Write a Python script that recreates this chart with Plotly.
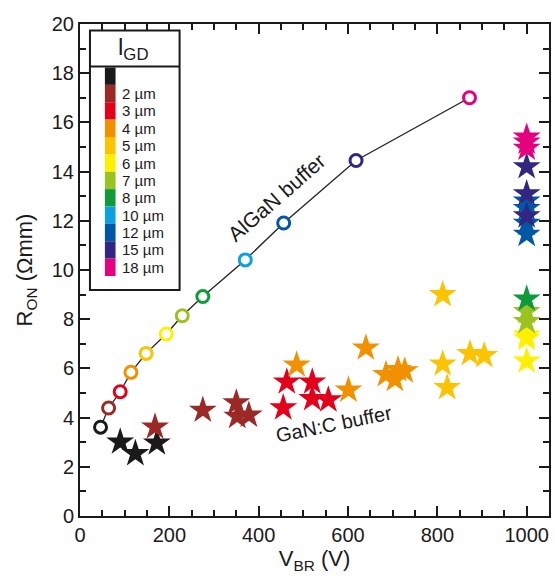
import plotly.graph_objects as go

# ---------------- data ----------------
lgd_values = [1, 2, 3, 4, 5, 6, 7, 8, 10, 12, 15, 18]
lgd_colors = ["#1a1a1a", "#9b2a27", "#e3001b", "#f29100", "#fdc300", "#fff000",
              "#9bc31f", "#119a3a", "#0ea0e0", "#0057a5", "#312783", "#e5007e"]
lgd_labels = ["", "2 µm", "3 µm", "4 µm", "5 µm", "6 µm", "7 µm", "8 µm",
              "10 µm", "12 µm", "15 µm", "18 µm"]

# AlGaN buffer (open circles, joined)
algan_lgd = [1, 2, 3, 4, 5, 6, 7, 8, 10, 12, 15, 18]
algan_vbr = [46, 64, 90, 114, 148, 193, 229, 275, 370, 456, 618, 872]
algan_ron = [3.61, 4.39, 5.05, 5.84, 6.61, 7.40, 8.14, 8.92, 10.41, 11.91, 14.45, 17.0]

# GaN:C buffer (stars)
ganc_lgd = [1, 1, 1,
            2, 2, 2, 2, 2,
            3, 3, 3, 3, 3,
            4, 4, 4, 4, 4, 4, 4,
            5, 5, 5, 5, 5,
            6, 6, 6,
            7, 7,
            8,
            12, 12, 12, 12,
            15, 15, 15,
            18, 18, 18]
ganc_vbr = [90, 124, 172,
            168, 275, 350, 352, 378,
            455, 463, 520, 520, 556,
            485, 640, 601, 685, 705, 712, 727,
            812, 812, 822, 873, 905,
            1000, 1000, 1000,
            1000, 1000,
            1000,
            1000, 1000, 1000, 1000,
            1000, 1000, 1000,
            1000, 1000, 1000]
ganc_ron = [3.01, 2.54, 2.97,
            3.62, 4.30, 4.60, 4.05, 4.10,
            4.40, 5.45, 5.45, 4.77, 4.72,
            6.14, 6.83, 5.12, 5.75, 5.55, 5.95, 5.90,
            9.00, 6.18, 5.22, 6.60, 6.52,
            7.36, 7.22, 6.30,
            8.31, 7.90,
            8.82,
            12.80, 12.50, 11.90, 11.45,
            14.20, 13.10, 12.20,
            15.40, 15.20, 14.95]

color_of = dict(zip(lgd_values, lgd_colors))

FONT = "Liberation Sans, Arial, Helvetica, sans-serif"
W, H = 555, 576
ML, MR, MT, MB = 80, 4, 24, 60

fig = go.Figure()

# GaN:C stars, drawn per l_GD group
for v in lgd_values:
    xs = [x for x, g in zip(ganc_vbr, ganc_lgd) if g == v]
    ys = [y for y, g in zip(ganc_ron, ganc_lgd) if g == v]
    if not xs:
        continue
    fig.add_trace(go.Scatter(
        x=xs, y=ys, mode="markers",
        marker=dict(symbol="star", size=21, color=color_of[v], line=dict(width=0)),
        showlegend=False, hoverinfo="skip"))

# AlGaN circles with connecting line
fig.add_trace(go.Scatter(
    x=algan_vbr, y=algan_ron, mode="lines+markers",
    line=dict(color="#222222", width=1.3),
    marker=dict(symbol="circle", size=12, color="white",
                line=dict(color=[color_of[g] for g in algan_lgd], width=3)),
    showlegend=False, hoverinfo="skip"))

# ---------------- legend (drawn in paper coordinates) ----------------
PW = W - ML - MR
PH = H - MT - MB


def pxx(p):
    return (p - ML) / PW


def pxy(p):
    return (H - MB - p) / PH


shapes = []
box_l, box_r, box_t, box_b = 90, 180, 30.5, 290
shapes.append(dict(type="rect", xref="paper", yref="paper",
                   x0=pxx(box_l), x1=pxx(box_r), y0=pxy(box_b), y1=pxy(box_t),
                   line=dict(color="#1a1a1a", width=2), fillcolor="white", layer="above"))
shapes.append(dict(type="line", xref="paper", yref="paper",
                   x0=pxx(box_l), x1=pxx(box_r), y0=pxy(66.5), y1=pxy(66.5),
                   line=dict(color="#1a1a1a", width=2), layer="above"))
bar_l, bar_r, bar_t, bar_b = 105, 115.7, 67.5, 276
n = len(lgd_colors)
bh = (bar_b - bar_t) / n
annotations = []
for i, (c, lab) in enumerate(zip(lgd_colors, lgd_labels)):
    y0 = bar_t + i * bh
    shapes.append(dict(type="rect", xref="paper", yref="paper",
                       x0=pxx(bar_l), x1=pxx(bar_r), y0=pxy(y0 + bh), y1=pxy(y0),
                       line=dict(width=0), fillcolor=c, layer="above"))
    if lab:
        annotations.append(dict(xref="paper", yref="paper", x=pxx(120), y=pxy(y0 + bh / 2),
                                text=lab, showarrow=False, xanchor="left", yanchor="middle",
                                font=dict(family=FONT, size=15, color="#1a1a1a")))
annotations.append(dict(xref="paper", yref="paper", x=pxx(134), y=pxy(48),
                        text="l<sub>GD</sub>", showarrow=False, xanchor="center", yanchor="middle",
                        font=dict(family=FONT, size=24, color="#1a1a1a")))

# curve labels
annotations.append(dict(x=440, y=12.95, xref="x", yref="y", text="AlGaN buffer",
                        showarrow=False, textangle=-41,
                        font=dict(family=FONT, size=21, color="#1a1a1a")))
annotations.append(dict(x=568, y=3.75, xref="x", yref="y", text="GaN:C buffer",
                        showarrow=False, textangle=-11.5,
                        font=dict(family=FONT, size=20, color="#1a1a1a")))

fig.update_layout(
    width=W, height=H,
    margin=dict(l=ML, r=MR, t=MT, b=MB, pad=0),
    paper_bgcolor="white", plot_bgcolor="white",
    shapes=shapes, annotations=annotations,
    font=dict(family=FONT, size=20, color="#1a1a1a"),
)

fig.update_xaxes(
    range=[0, 1050], showgrid=False, zeroline=False,
    showline=True, linecolor="#1a1a1a", linewidth=2, mirror="allticks",
    ticks="inside", ticklen=10, tickwidth=1.5, tickcolor="#1a1a1a",
    tickmode="array", tickvals=[0, 200, 400, 600, 800, 1000],
    minor=dict(ticks="inside", ticklen=6, tickwidth=1.5, tickcolor="#1a1a1a", dtick=50, tick0=0),
    tickfont=dict(family=FONT, size=20, color="#1a1a1a"),
    title=dict(text="V<sub>BR</sub> (V)", font=dict(family=FONT, size=22, color="#1a1a1a"), standoff=2),
)
fig.update_yaxes(
    range=[0, 20], showgrid=False, zeroline=False,
    showline=True, linecolor="#1a1a1a", linewidth=2, mirror="allticks",
    ticks="inside", ticklen=10, tickwidth=1.5, tickcolor="#1a1a1a",
    dtick=2, tick0=0,
    minor=dict(ticks="inside", ticklen=6, tickwidth=1.5, tickcolor="#1a1a1a", dtick=1, tick0=0),
    tickfont=dict(family=FONT, size=20, color="#1a1a1a"),
    title=dict(text="R<sub>ON</sub> (Ωmm)", font=dict(family=FONT, size=22, color="#1a1a1a"), standoff=13),
)

fig.write_html("out.html")
